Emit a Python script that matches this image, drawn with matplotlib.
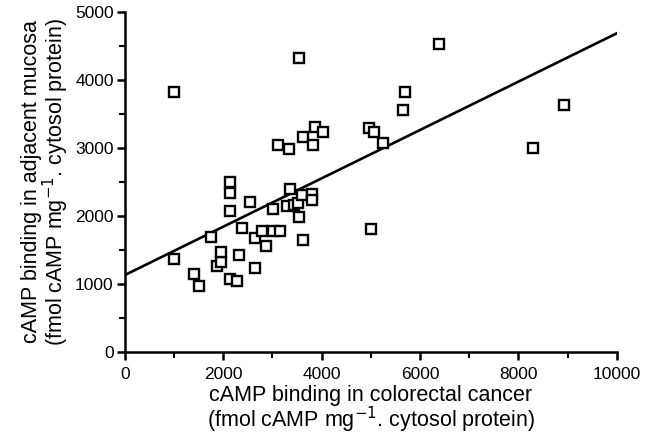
import matplotlib
matplotlib.use("Agg")
import matplotlib.pyplot as plt
from matplotlib.ticker import MultipleLocator

# cAMP binding, colorectal cancer (x) vs adjacent mucosa (y)
cancer = [1000, 1000, 1400, 1500, 1750, 1870, 1950, 1950, 2140, 2140,
          2140, 2140, 2290, 2320, 2380, 2550, 2650, 2650, 2780, 2870,
          3020, 3160, 3020, 3110, 3330, 3290, 3360, 3430, 3530, 3600,
          3550, 3630, 3550, 3630, 3820, 3860, 4020, 3800, 3800, 4960,
          5060, 5250, 5000, 5650, 5690, 6380, 8300, 8930]
mucosa = [3820, 1370, 1150, 970, 1690, 1260, 1330, 1470, 2500, 2340,
          2070, 1070, 1050, 1430, 1820, 2200, 1230, 1670, 1780, 1560,
          1780, 1780, 2100, 3040, 2980, 2150, 2400, 2160, 2190, 2310,
          1990, 1650, 4330, 3170, 3040, 3310, 3240, 2330, 2230, 3290,
          3230, 3080, 1810, 3560, 3820, 4530, 3000, 3640]

# fitted line (intercept, slope)
fit_intercept = 1130
fit_slope = 0.356
fit_x = [0, 10000]

plt.rcParams['font.family'] = ['Liberation Sans', 'DejaVu Sans']

fig = plt.figure(figsize=(6.5, 4.36), dpi=100)
ax = fig.add_axes([0.192, 0.193, 0.757, 0.779])

ax.plot(fit_x, [fit_intercept + fit_slope * v for v in fit_x],
        color="black", lw=1.9, zorder=2)
ax.plot(cancer, mucosa, ls="none", marker="s", ms=7.5, mfc="white",
        mec="black", mew=1.7, zorder=3)

ax.set_xlim(0, 10000)
ax.set_ylim(0, 5000)
ax.xaxis.set_major_locator(MultipleLocator(2000))
ax.xaxis.set_minor_locator(MultipleLocator(1000))
ax.yaxis.set_major_locator(MultipleLocator(1000))
ax.yaxis.set_minor_locator(MultipleLocator(500))

for side in ("top", "right"):
    ax.spines[side].set_visible(False)
for side in ("left", "bottom"):
    ax.spines[side].set_linewidth(1.8)

ax.tick_params(which="major", direction="out", length=6, width=1.8,
               labelsize=12.5, pad=2)
ax.tick_params(which="minor", direction="out", length=4, width=1.5)
ax.tick_params(axis="x", which="major", pad=5)

ax.set_xlabel("cAMP binding in colorectal cancer\n"
              "(fmol cAMP mg$^{-1}$. cytosol protein)",
              fontsize=15.5, linespacing=0.95, labelpad=2)
ax.set_ylabel("cAMP binding in adjacent mucosa\n"
              "(fmol cAMP mg$^{-1}$. cytosol protein)",
              fontsize=15.5, linespacing=0.95, labelpad=3)

fig.savefig("out.png", dpi=100)
